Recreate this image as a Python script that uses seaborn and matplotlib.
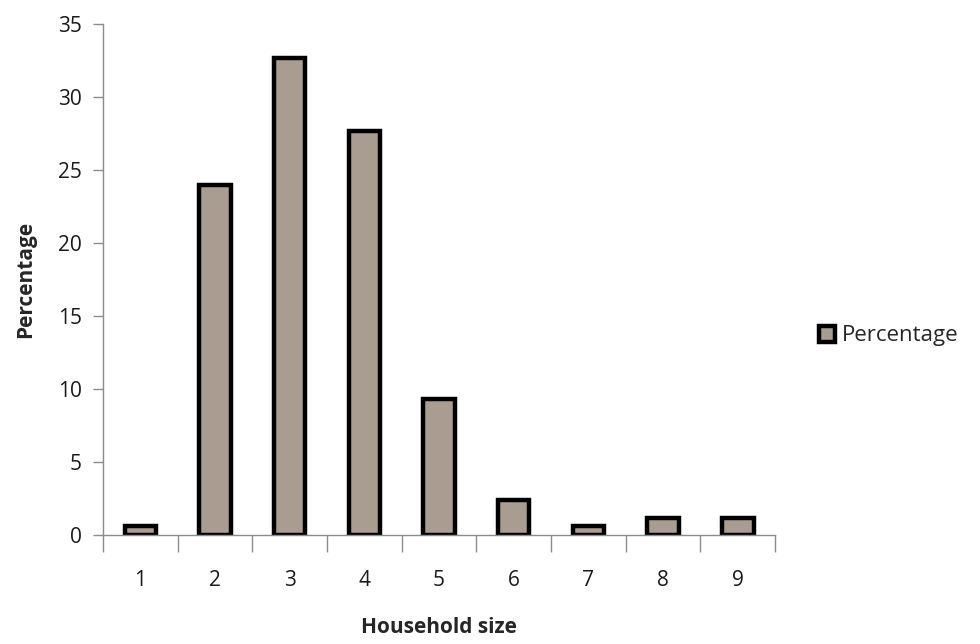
import numpy as np
import pandas as pd
import seaborn as sns
import matplotlib.pyplot as plt

# household size distribution
household_size = ["1", "2", "3", "4", "5", "6", "7", "8", "9"]
percentage = [0.6, 24.0, 32.7, 27.7, 9.3, 2.4, 0.6, 1.2, 1.2]
y_ticks = [0, 5, 10, 15, 20, 25, 30, 35]

df = pd.DataFrame({"Household size": household_size, "Percentage": percentage})

sns.set_style("white")
plt.rcParams["font.family"] = ["Open Sans", "DejaVu Sans"]

fig = plt.figure(figsize=(9.8, 6.44), dpi=100)
ax = fig.add_axes([0.105, 0.169, 0.686, 0.793])

sns.barplot(data=df, x="Household size", y="Percentage", color="#a99d92",
            width=0.42, edgecolor="black", linewidth=3.2, label="Percentage",
            saturation=1, ax=ax)

ax.set_xlim(-0.5, len(household_size) - 0.5)
ax.set_ylim(0, 35)
ax.set_yticks(y_ticks)
ax.set_yticklabels([str(t) for t in y_ticks], fontsize=15, color="#1a1a1a")

# tick marks between categories, labels at centres
ax.set_xticks(np.arange(-0.5, len(household_size)), labels=[""] * (len(household_size) + 1))
ax.set_xticks(range(len(household_size)), labels=household_size, minor=True,
              fontsize=15, color="#1a1a1a")
ax.tick_params(axis="x", which="major", bottom=True, length=12, width=1,
               color="#8c8c8c", direction="out")
ax.tick_params(axis="x", which="minor", bottom=True, length=0, pad=25)
ax.tick_params(axis="y", left=True, length=7, width=1, color="#8c8c8c",
               direction="out", pad=8)

for side in ["top", "right"]:
    ax.spines[side].set_visible(False)
for side in ["left", "bottom"]:
    ax.spines[side].set_color("#8c8c8c")
    ax.spines[side].set_linewidth(1)

ax.set_xlabel("Household size", fontsize=15, fontweight="bold", labelpad=19)
ax.set_ylabel("Percentage", fontsize=15, fontweight="bold", labelpad=16)

leg = ax.legend(loc="center left", bbox_to_anchor=(1.035, 0.39), frameon=False,
                fontsize=16, handlelength=0.75, handleheight=0.75, handletextpad=0.3)

plt.savefig("out.png", dpi=100)
